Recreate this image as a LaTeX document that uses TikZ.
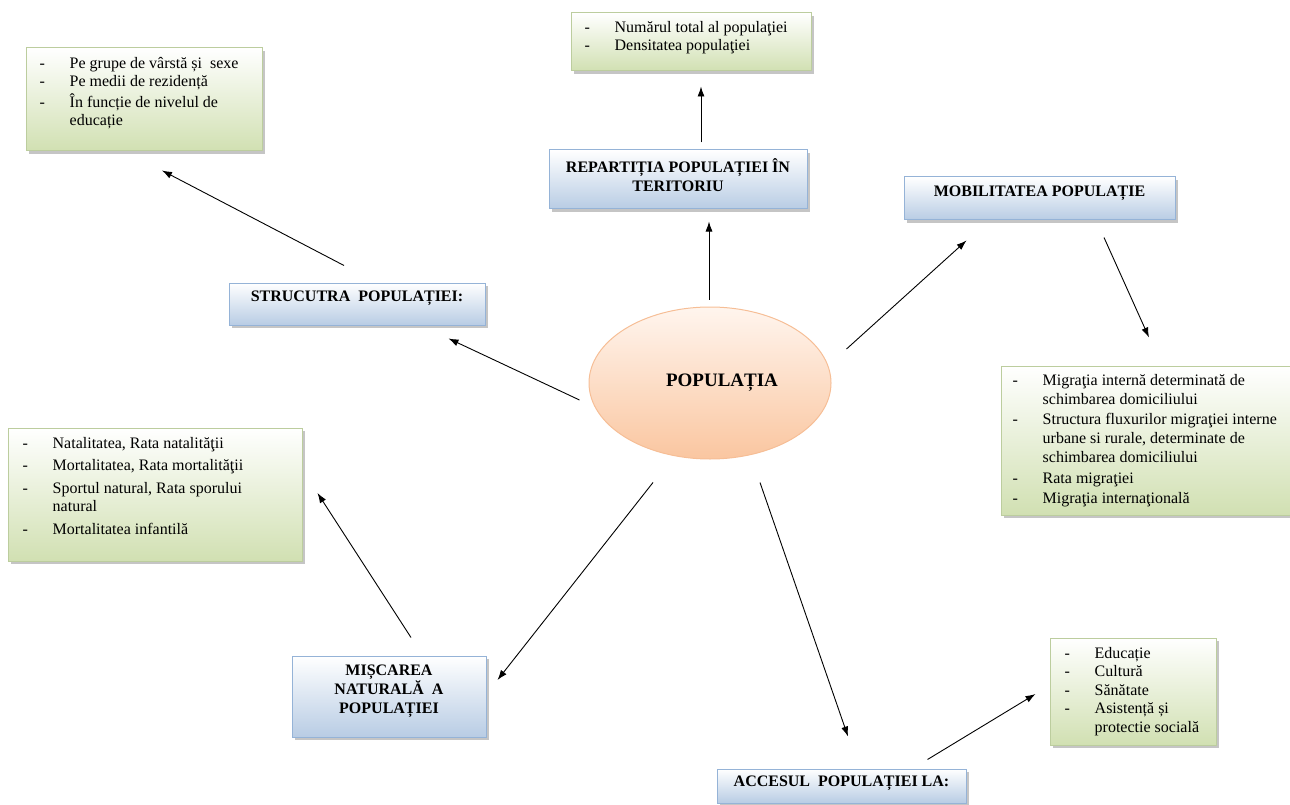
\documentclass[tikz,border=0pt]{standalone}
\usepackage{fontspec}
\setmainfont{Liberation Serif}
\usetikzlibrary{shadows,arrows.meta,shapes.geometric}

\definecolor{grnbot}{RGB}{209,224,178}
\definecolor{grnbrd}{RGB}{188,205,158}
\definecolor{blubot}{RGB}{184,204,228}
\definecolor{blubrd}{RGB}{149,179,215}
\definecolor{orgtop}{RGB}{255,245,238}
\definecolor{orgbot}{RGB}{250,198,160}
\definecolor{orgbrd}{RGB}{246,190,150}

\newcommand\myitem[1]{\strut\makebox[30pt][l]{-}#1}
\newcommand\mycont[1]{\strut\hspace*{30pt}#1}

\tikzset{
  shd/.style={drop shadow={shadow xshift=3pt,shadow yshift=-3pt,opacity=0.3,fill=black!75}},
  greenbox/.style={draw=grnbrd, line width=1pt, top color=white, bottom color=grnbot, shd, inner sep=0pt},
  bluebox/.style={draw=blubrd, line width=1pt, top color=white, bottom color=blubot, shd, inner sep=0pt},
  listtext/.style={anchor=north west, inner sep=0pt, align=left, font=\fontsize{16}{18.4}\selectfont},
  headtext/.style={inner sep=0pt, align=center, font=\bfseries\fontsize{16}{19}\selectfont},
  arr/.style={draw=black, line width=0.9pt, -{Latex[length=10pt,width=7pt]}},
}

\begin{document}
\begin{tikzpicture}[x=1pt,y=-1pt]
\useasboundingbox (0,0) rectangle (1290,805);

% ---- green boxes ----
\node[greenbox, minimum width=236pt, minimum height=103pt] (tl) at (144,99.5) {};
\node[listtext] (tlt) at ([shift={(14,8)}]tl.north west) {%
  \myitem{Pe grupe de vârstă și\ \ sexe}\\
  \myitem{Pe medii de rezidență}\\
  \myitem{În funcție de nivelul de}\\
  \mycont{educație}};

\node[greenbox, minimum width=240pt, minimum height=58pt] (tc) at (691,42) {};
\node[listtext] (tct) at ([shift={(14,7)}]tc.north west) {%
  \myitem{Numărul total al populaţiei}\\
  \myitem{Densitatea populaţiei}};

\node[greenbox, minimum width=294pt, minimum height=149pt] (rt) at (1148,440.5) {};
\node[listtext, font=\fontsize{16}{19}\selectfont] (rtt) at ([shift={(12,6)}]rt.north west) {%
  \myitem{Migraţia internă determinată de}\\
  \mycont{schimbarea domiciliului}\\[1.5pt]
  \myitem{Structura fluxurilor migraţiei interne}\\
  \mycont{urbane si rurale, determinate de}\\
  \mycont{schimbarea domiciliului}\\[1.5pt]
  \myitem{Rata migraţiei}\\[1.5pt]
  \myitem{Migraţia internaţională}};

\node[greenbox, minimum width=294pt, minimum height=133pt] (lf) at (155,494.5) {};
\node[listtext] (lft) at ([shift={(15,8)}]lf.north west) {%
  \myitem{Natalitatea, Rata natalităţii}\\[4pt]
  \myitem{Mortalitatea, Rata mortalităţii}\\[4pt]
  \myitem{Sportul natural, Rata sporului}\\
  \mycont{natural}\\[4pt]
  \myitem{Mortalitatea infantilă}};

\node[greenbox, minimum width=166pt, minimum height=107pt] (br) at (1133,691.5) {};
\node[listtext] (brt) at ([shift={(15,8)}]br.north west) {%
  \myitem{Educație}\\
  \myitem{Cultură}\\
  \myitem{Sănătate}\\
  \myitem{Asistență și}\\
  \mycont{protectie socială}};

% ---- blue heading boxes ----
\node[bluebox, minimum width=258pt, minimum height=59pt] (rep) at (678,179.5) {};
\node[headtext] (rept) at ([yshift=4pt]rep.center) {REPARTIȚIA POPULAȚIEI ÎN\\TERITORIU};

\node[bluebox, minimum width=271pt, minimum height=43pt] (mob) at (1039.5,198.5) {};
\node[headtext] (mobt) at ([yshift=5pt]mob.center) {MOBILITATEA POPULAȚIE};

\node[bluebox, minimum width=256pt, minimum height=42pt] (str) at (357,304) {};
\node[headtext] (strt) at ([yshift=6pt]str.center) {STRUCUTRA\ \ POPULAȚIEI:};

\node[bluebox, minimum width=194pt, minimum height=81pt] (mis) at (389,696.5) {};
\node[headtext] (mist) at ([yshift=5pt]mis.center) {MIȘCAREA\\NATURALĂ\ \ A\\POPULAȚIEI};

\node[bluebox, minimum width=249pt, minimum height=34pt] (acc) at (841.5,786) {};
\node[headtext] (acct) at ([yshift=3pt]acc.center) {ACCESUL\ \ POPULAȚIEI LA:};

% ---- central ellipse ----
\node[ellipse, draw=orgbrd, line width=1pt, minimum width=242pt, minimum height=152pt,
      top color=orgtop, bottom color=orgbot, inner sep=0pt,
      font=\bfseries\fontsize{19}{22}\selectfont] (pop) at (710,383) {\hspace*{24pt}POPULAȚIA};

% ---- arrows ----
\draw[arr] ([shift={(-13,-17)}]str.north) -- ([shift={(18,19)}]tl.south);
\draw[arr] ([shift={(-9,17)}]pop.west) -- ([shift={(-37,13)}]str.south east);
\draw[arr] ([shift={(-1,-7)}]pop.north) -- ([shift={(31,12)}]rep.south);
\draw[arr] ([shift={(23,-7)}]rep.north) -- ([shift={(10,15)}]tc.south);
\draw[arr] ([shift={(15,-34)}]pop.east) -- ([shift={(63,20)}]mob.south west);
\draw[arr] ([shift={(64.5,17)}]mob.south) -- ([shift={(1,-28)}]rt.north);
\draw[arr] ([shift={(-57,23)}]pop.south) -- ([shift={(11,-16.5)}]mis.east);
\draw[arr] ([shift={(22,-18)}]mis.north) -- ([shift={(15,-1.5)}]lf.east);
\draw[arr] ([shift={(50,23)}]pop.south) -- ([shift={(6.5,-32)}]acc.north);
\draw[arr] ([shift={(-39,-9)}]acc.north east) -- ([shift={(-14,2.5)}]br.west);
\end{tikzpicture}
\end{document}
